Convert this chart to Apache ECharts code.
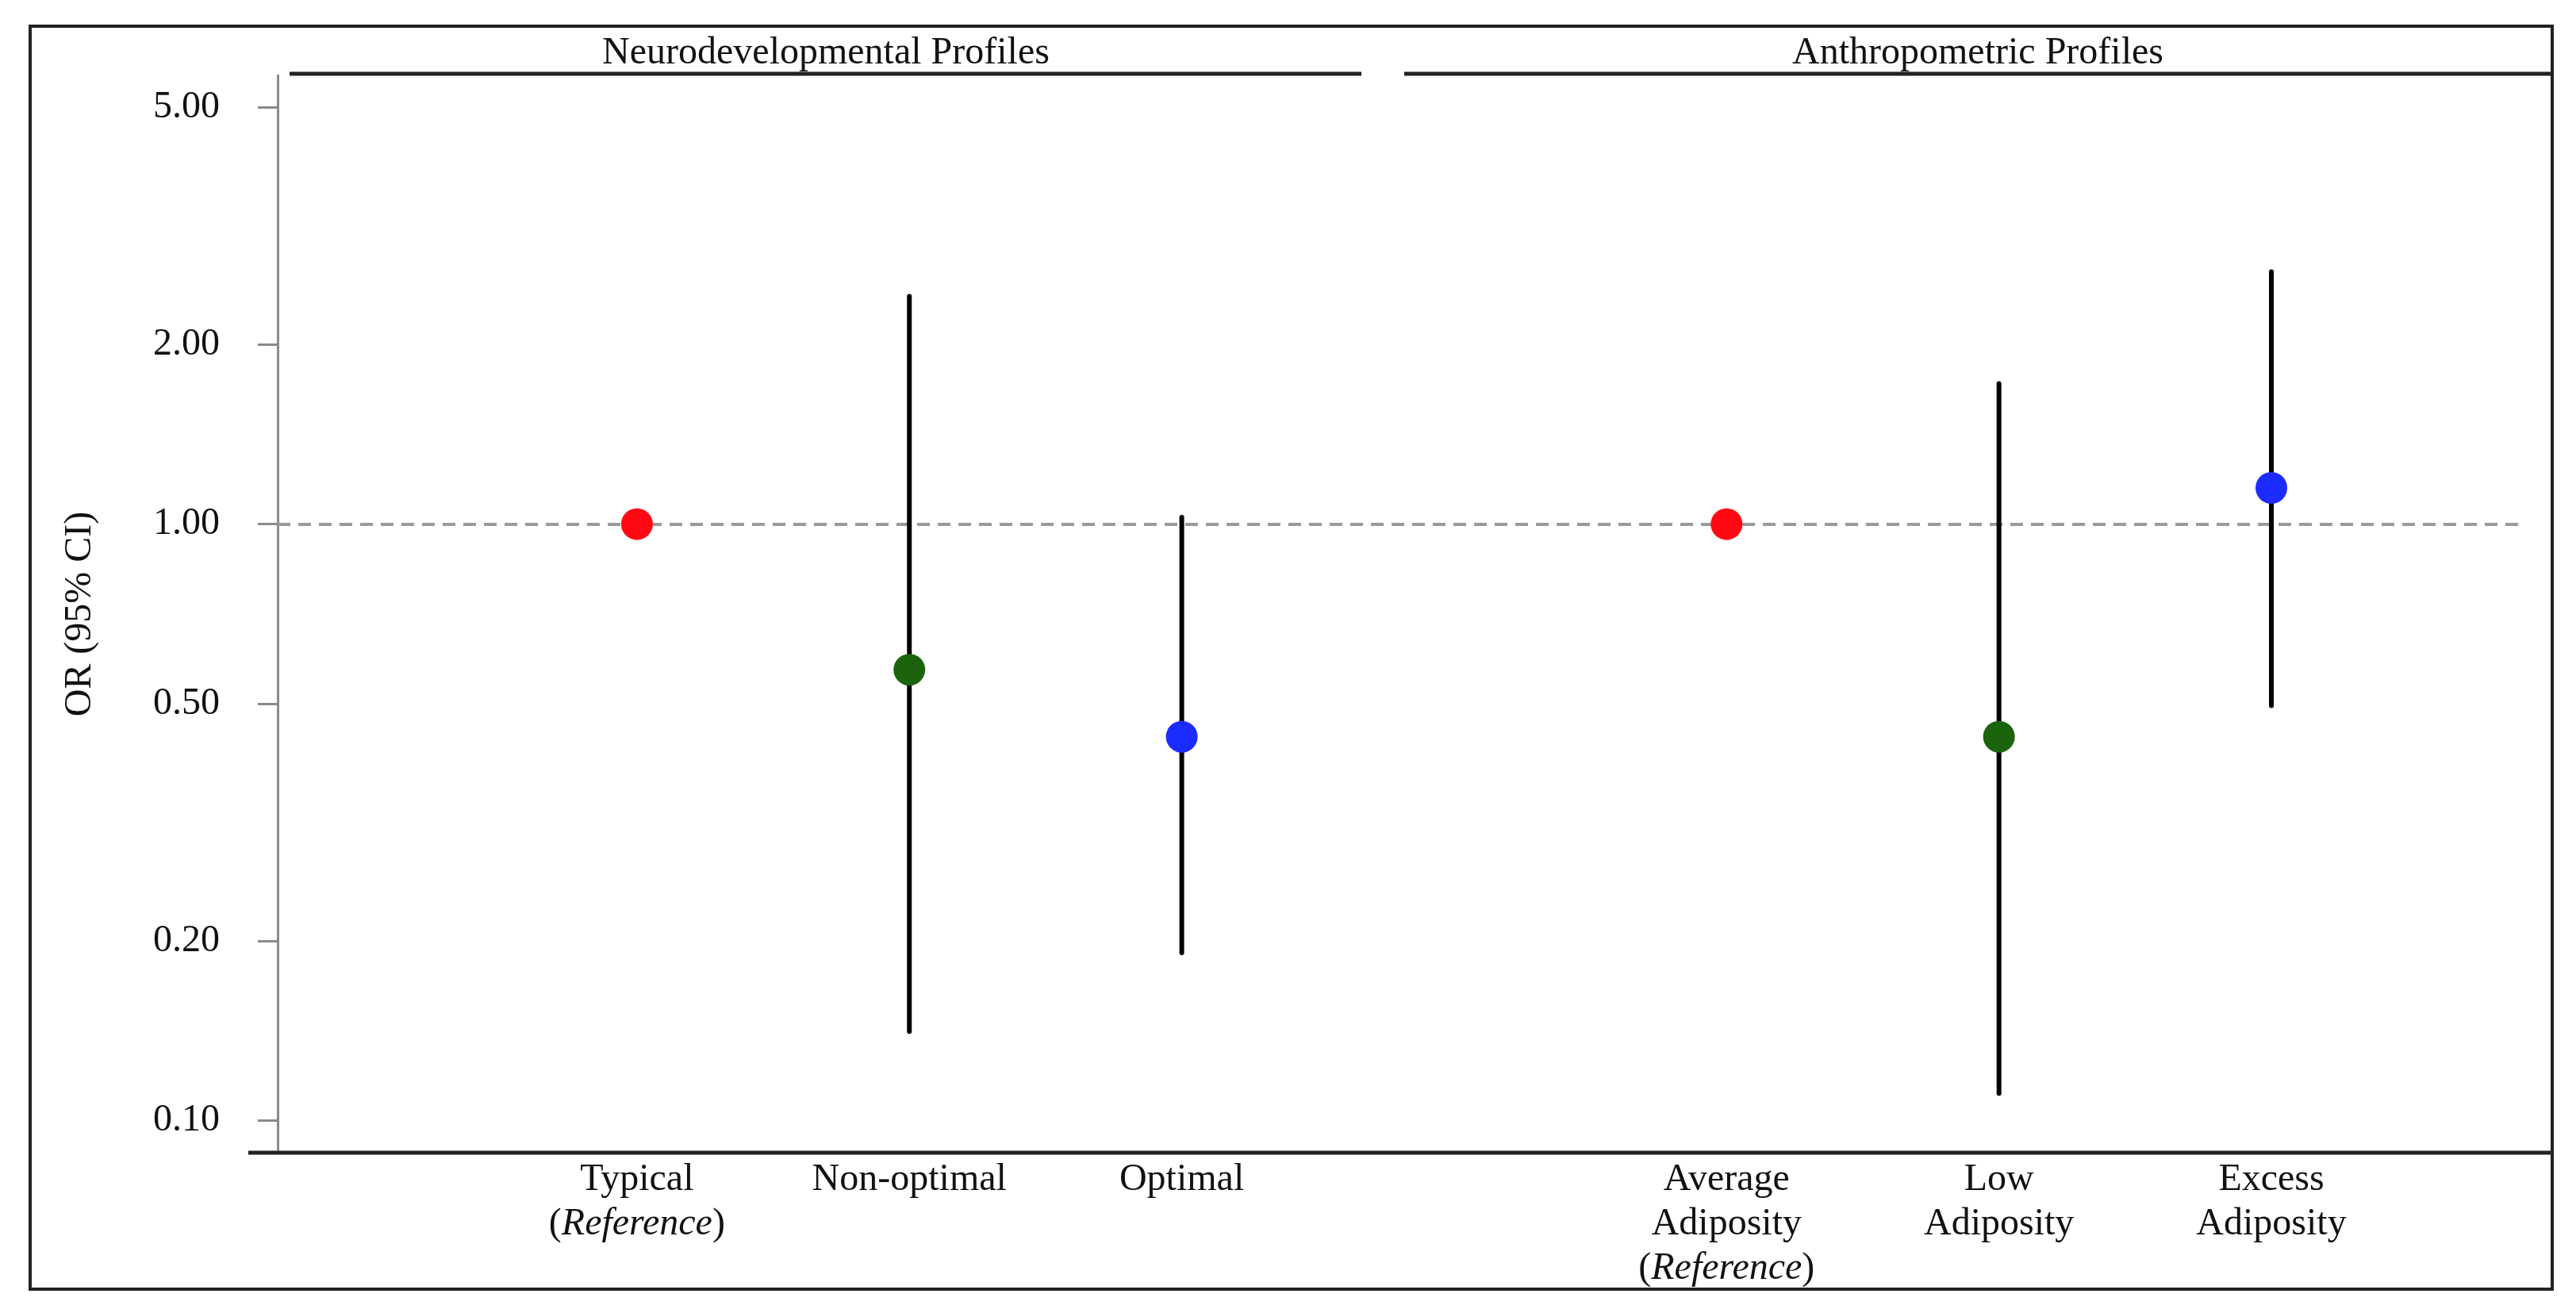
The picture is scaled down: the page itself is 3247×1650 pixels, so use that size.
<!DOCTYPE html>
<html><head><meta charset="utf-8">
<script src="https://cdn.jsdelivr.net/npm/echarts@6/dist/echarts.min.js"></script>
<style>html,body{margin:0;padding:0;background:#fff}#c{width:3247px;height:1650px}</style>
</head><body><div id="c"></div>
<script>
// ---- data ----
const categories = ['Typical\n({it|Reference})', 'Non-optimal', 'Optimal',
  'Average\nAdiposity\n({it|Reference})', 'Low\nAdiposity', 'Excess\nAdiposity'];
const slots = [1, 2, 3, 5, 6, 7];
const orValues = [1.00, 0.57, 0.44, 1.00, 0.44, 1.15];
const ciLower  = [null, 0.141, 0.191, null, 0.111, 0.496];
const ciUpper  = [null, 2.41, 1.027, null, 1.72, 2.65];
const yTicks = [0.1, 0.2, 0.5, 1, 2, 5];
const groupTitles = ['Neurodevelopmental Profiles', 'Anthropometric Profiles'];
const pointColors = ['#ff0a14', '#1b640d', '#1c2cff', '#ff0a14', '#1b640d', '#1c2cff'];

const FONT = 'Liberation Serif';
const chart = echarts.init(document.getElementById('c'));

const scatterData = slots.map((s, i) => ({ value: [s, orValues[i]], itemStyle: { color: pointColors[i], opacity: 1 } }));
const ciData = [];
slots.forEach((s, i) => { if (ciLower[i] != null) ciData.push([s, ciLower[i], ciUpper[i]]); });

chart.setOption({
  animation: false,
  backgroundColor: '#fff',
  grid: { left: 350, right: 65, top: 95, bottom: 197, containLabel: false, outerBoundsMode: 'none' },
  xAxis: {
    type: 'value', min: -0.319, max: 7.929,
    axisLine: { show: false, onZero: false }, axisTick: { show: false }, splitLine: { show: false },
    axisLabel: {
      customValues: slots,
      formatter: v => categories[slots.indexOf(Math.round(v))] || '',
      margin: 6, color: '#111', fontFamily: FONT, fontSize: 48, lineHeight: 56,
      rich: { it: { fontStyle: 'italic', fontFamily: FONT, fontSize: 48, lineHeight: 56, color: '#111' } }
    }
  },
  yAxis: {
    type: 'log', logBase: 10, min: 0.0883, max: 5.655,
    name: 'OR (95% CI)', nameLocation: 'middle', nameGap: 225, nameMoveOverlap: false,
    nameTextStyle: { fontFamily: FONT, fontSize: 48, color: '#111' },
    axisLine: { show: true, onZero: false, lineStyle: { color: '#8a8a8a', width: 3 } },
    axisTick: { show: true, customValues: yTicks, length: 25, lineStyle: { color: '#8a8a8a', width: 3 } },
    splitLine: { show: false }, minorTick: { show: false },
    axisLabel: { customValues: yTicks, formatter: v => Number(v).toFixed(2), margin: 73,
      fontFamily: FONT, fontSize: 48, color: '#111' }
  },
  series: [
    {
      type: 'custom', z: 3,
      data: ciData,
      encode: { x: 0, y: [1, 2] },
      renderItem: (params, api) => {
        const x = api.value(0);
        const p1 = api.coord([x, api.value(1)]);
        const p2 = api.coord([x, api.value(2)]);
        return { type: 'line', shape: { x1: p1[0], y1: p1[1], x2: p2[0], y2: p2[1] },
          style: { stroke: '#000', lineWidth: 6, lineCap: 'round' } };
      }
    },
    {
      type: 'scatter', z: 4, symbol: 'circle', symbolSize: 40,
      itemStyle: { opacity: 1 },
      data: scatterData,
      markLine: {
        silent: true, symbol: 'none', z: 1,
        label: { show: false },
        lineStyle: { color: '#9a9a9a', width: 4, type: [16, 10] },
        data: [{ yAxis: 1 }]
      }
    }
  ],
  graphic: [
    { type: 'rect', z: 100, shape: { x: 38, y: 33, width: 3179, height: 1592 },
      style: { fill: null, stroke: '#222', lineWidth: 4 } },
    { type: 'line', z: 100, shape: { x1: 313, y1: 1453, x2: 3217, y2: 1453 },
      style: { stroke: '#222', lineWidth: 5 } },
    { type: 'line', z: 100, shape: { x1: 365, y1: 93, x2: 1716, y2: 93 },
      style: { stroke: '#222', lineWidth: 5 } },
    { type: 'line', z: 100, shape: { x1: 1770, y1: 93, x2: 3217, y2: 93 },
      style: { stroke: '#222', lineWidth: 5 } },
    { type: 'text', z: 100, x: 1041, y: 91,
      style: { text: groupTitles[0], fontFamily: FONT, fontSize: 48, fill: '#111', align: 'center', verticalAlign: 'bottom' } },
    { type: 'text', z: 100, x: 2493, y: 91,
      style: { text: groupTitles[1], fontFamily: FONT, fontSize: 48, fill: '#111', align: 'center', verticalAlign: 'bottom' } }
  ]
});
</script></body></html>
